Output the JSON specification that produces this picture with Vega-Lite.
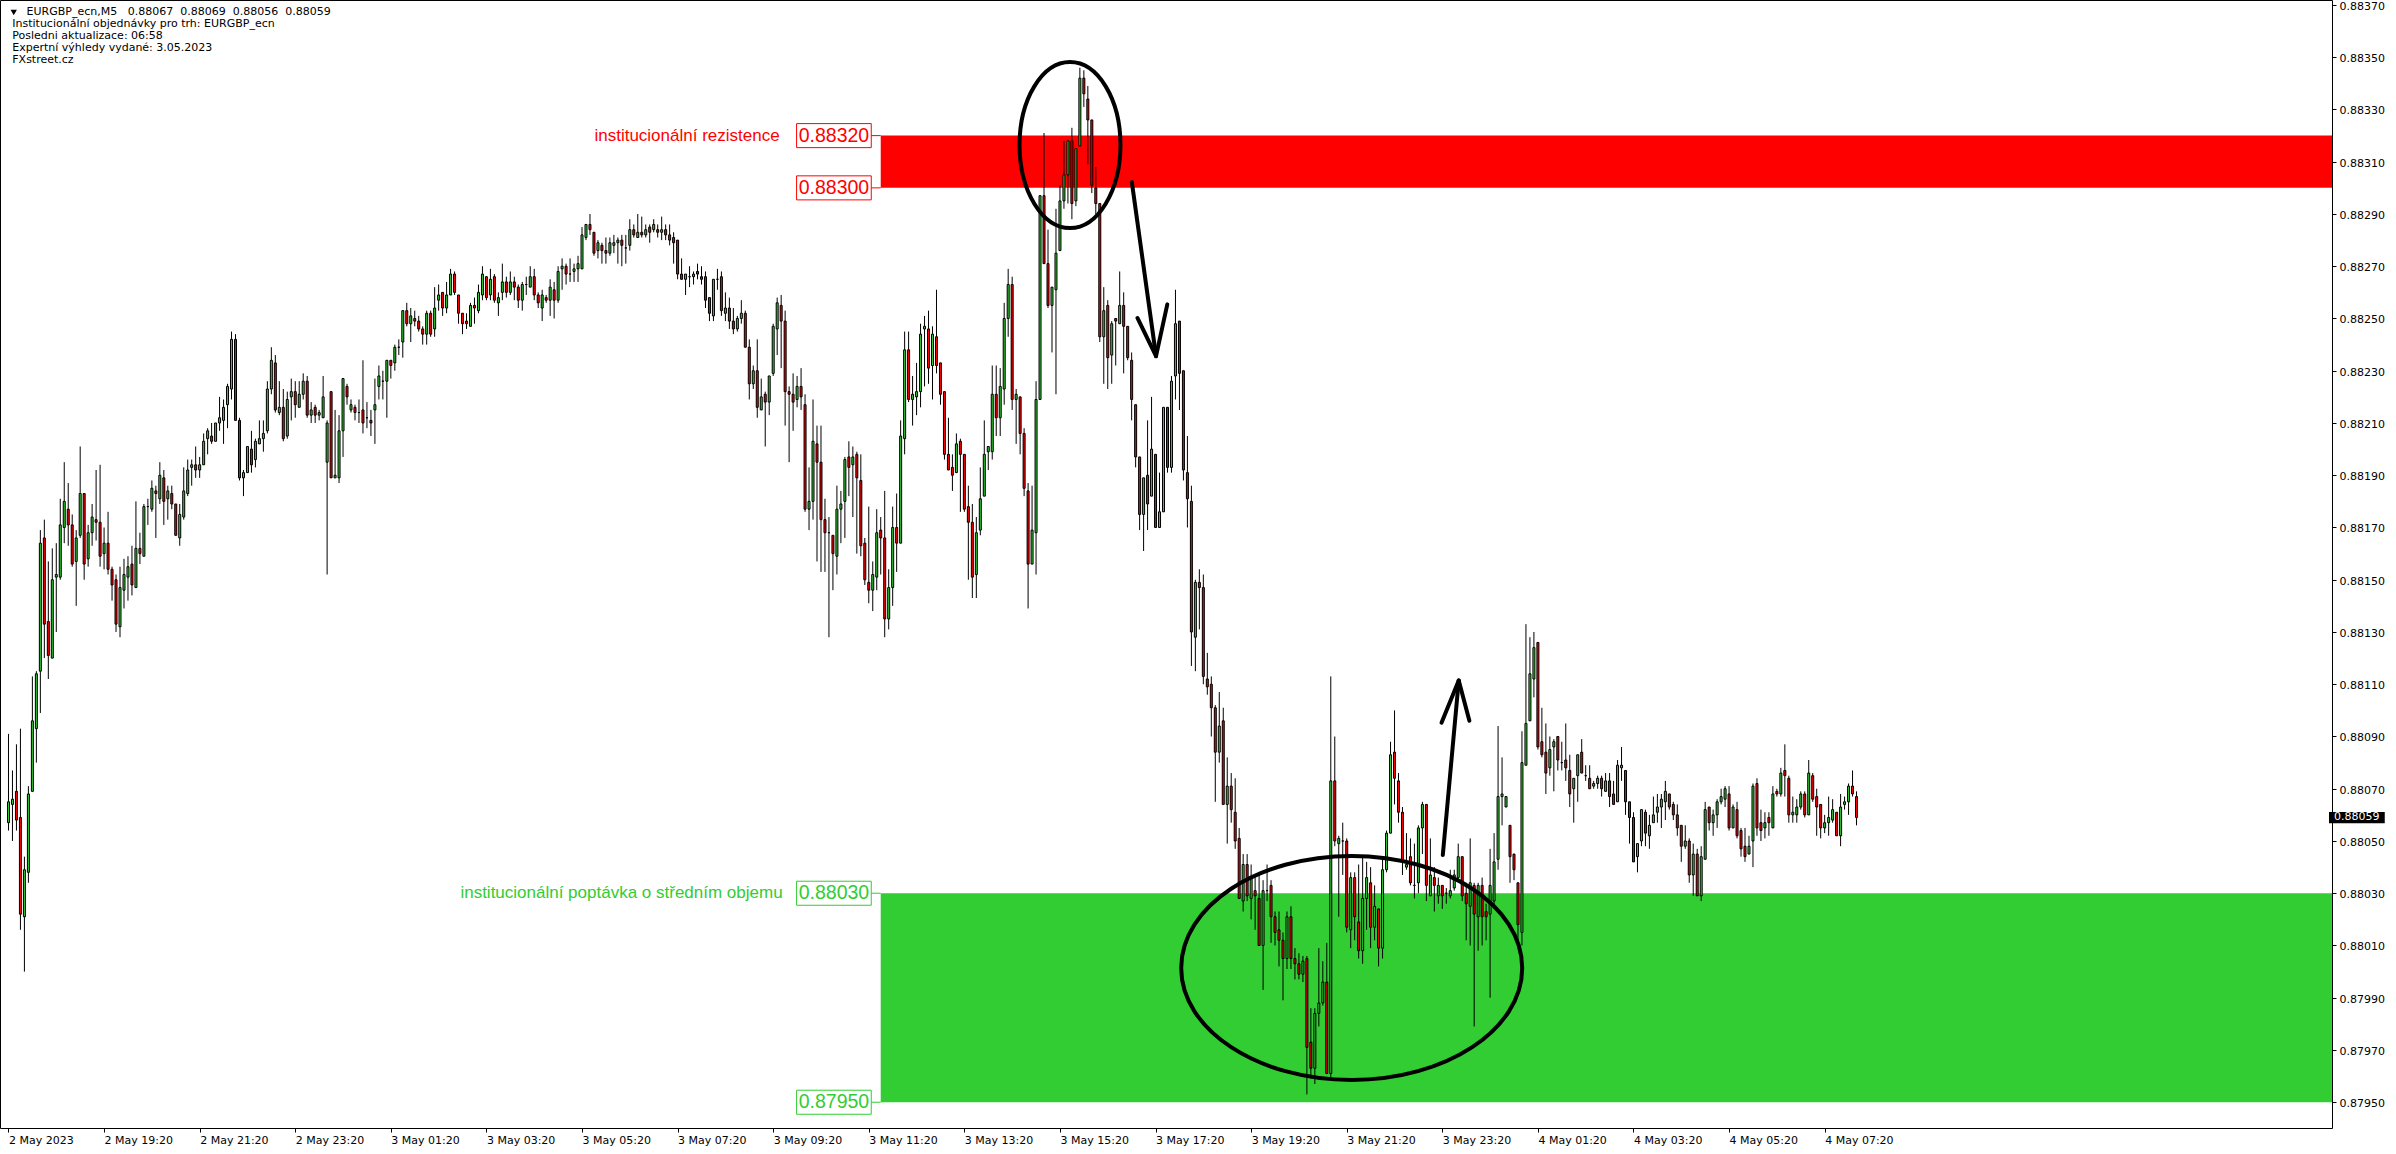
{
"$schema":"https://vega.github.io/schema/vega-lite/v6.json",
"width":2332,"height":1128,
"autosize":{"type":"none"},
"padding":{"left":0,"top":0,"right":64,"bottom":26},
"background":"white",
"config":{"view":{"stroke":"#000","strokeWidth":1},
"axis":{"labelFont":"DejaVu Sans","labelFontSize":11,"labelColor":"#000","tickColor":"#000","domain":false,"grid":false,"labelOverlap":false,"labelFlush":false,"labelBound":false}},
"datasets":{
"c":[
{"t":"2023-05-02T17:20","o":0.88057,"h":0.88091,"l":0.88054,"c":0.88065},
{"t":"2023-05-02T17:25","o":0.88064,"h":0.88077,"l":0.88050,"c":0.88066},
{"t":"2023-05-02T17:30","o":0.88069,"h":0.88087,"l":0.88054,"c":0.88058},
{"t":"2023-05-02T17:35","o":0.88059,"h":0.88093,"l":0.88016,"c":0.88022},
{"t":"2023-05-02T17:40","o":0.88021,"h":0.88044,"l":0.88000,"c":0.88039},
{"t":"2023-05-02T17:45","o":0.88038,"h":0.88071,"l":0.88034,"c":0.88068},
{"t":"2023-05-02T17:50","o":0.88069,"h":0.88113,"l":0.88069,"c":0.88096},
{"t":"2023-05-02T17:55","o":0.88093,"h":0.88115,"l":0.88080,"c":0.88114},
{"t":"2023-05-02T18:00","o":0.88115,"h":0.88169,"l":0.88099,"c":0.88164},
{"t":"2023-05-02T18:05","o":0.88166,"h":0.88173,"l":0.88120,"c":0.88133},
{"t":"2023-05-02T18:10","o":0.88134,"h":0.88157,"l":0.88112,"c":0.88121},
{"t":"2023-05-02T18:15","o":0.88120,"h":0.88162,"l":0.88120,"c":0.88150},
{"t":"2023-05-02T18:20","o":0.88151,"h":0.88164,"l":0.88130,"c":0.88152},
{"t":"2023-05-02T18:25","o":0.88151,"h":0.88181,"l":0.88150,"c":0.88171},
{"t":"2023-05-02T18:30","o":0.88170,"h":0.88195,"l":0.88164,"c":0.88180},
{"t":"2023-05-02T18:35","o":0.88177,"h":0.88187,"l":0.88163,"c":0.88171},
{"t":"2023-05-02T18:40","o":0.88171,"h":0.88175,"l":0.88155,"c":0.88156},
{"t":"2023-05-02T18:45","o":0.88157,"h":0.88169,"l":0.88140,"c":0.88166},
{"t":"2023-05-02T18:50","o":0.88167,"h":0.88201,"l":0.88166,"c":0.88183},
{"t":"2023-05-02T18:55","o":0.88183,"h":0.88183,"l":0.88150,"c":0.88156},
{"t":"2023-05-02T19:00","o":0.88158,"h":0.88171,"l":0.88155,"c":0.88168},
{"t":"2023-05-02T19:05","o":0.88168,"h":0.88179,"l":0.88163,"c":0.88174},
{"t":"2023-05-02T19:10","o":0.88173,"h":0.88192,"l":0.88165,"c":0.88172},
{"t":"2023-05-02T19:15","o":0.88172,"h":0.88194,"l":0.88155,"c":0.88159},
{"t":"2023-05-02T19:20","o":0.88160,"h":0.88170,"l":0.88154,"c":0.88164},
{"t":"2023-05-02T19:25","o":0.88164,"h":0.88176,"l":0.88152,"c":0.88154},
{"t":"2023-05-02T19:30","o":0.88154,"h":0.88155,"l":0.88142,"c":0.88148},
{"t":"2023-05-02T19:35","o":0.88150,"h":0.88152,"l":0.88130,"c":0.88133},
{"t":"2023-05-02T19:40","o":0.88132,"h":0.88155,"l":0.88128,"c":0.88147},
{"t":"2023-05-02T19:45","o":0.88146,"h":0.88158,"l":0.88139,"c":0.88152},
{"t":"2023-05-02T19:50","o":0.88151,"h":0.88159,"l":0.88142,"c":0.88155},
{"t":"2023-05-02T19:55","o":0.88156,"h":0.88163,"l":0.88144,"c":0.88148},
{"t":"2023-05-02T20:00","o":0.88147,"h":0.88180,"l":0.88147,"c":0.88162},
{"t":"2023-05-02T20:05","o":0.88162,"h":0.88168,"l":0.88156,"c":0.88160},
{"t":"2023-05-02T20:10","o":0.88159,"h":0.88179,"l":0.88159,"c":0.88178},
{"t":"2023-05-02T20:15","o":0.88178,"h":0.88181,"l":0.88171,"c":0.88178},
{"t":"2023-05-02T20:20","o":0.88177,"h":0.88188,"l":0.88176,"c":0.88185},
{"t":"2023-05-02T20:25","o":0.88184,"h":0.88186,"l":0.88166,"c":0.88183},
{"t":"2023-05-02T20:30","o":0.88181,"h":0.88195,"l":0.88179,"c":0.88190},
{"t":"2023-05-02T20:35","o":0.88189,"h":0.88192,"l":0.88171,"c":0.88180},
{"t":"2023-05-02T20:40","o":0.88181,"h":0.88186,"l":0.88173,"c":0.88184},
{"t":"2023-05-02T20:45","o":0.88183,"h":0.88186,"l":0.88177,"c":0.88179},
{"t":"2023-05-02T20:50","o":0.88179,"h":0.88179,"l":0.88167,"c":0.88167},
{"t":"2023-05-02T20:55","o":0.88166,"h":0.88179,"l":0.88163,"c":0.88175},
{"t":"2023-05-02T21:00","o":0.88174,"h":0.88193,"l":0.88173,"c":0.88184},
{"t":"2023-05-02T21:05","o":0.88183,"h":0.88196,"l":0.88182,"c":0.88192},
{"t":"2023-05-02T21:10","o":0.88193,"h":0.88196,"l":0.88186,"c":0.88194},
{"t":"2023-05-02T21:15","o":0.88194,"h":0.88201,"l":0.88189,"c":0.88192},
{"t":"2023-05-02T21:20","o":0.88192,"h":0.88197,"l":0.88189,"c":0.88194},
{"t":"2023-05-02T21:25","o":0.88194,"h":0.88206,"l":0.88194,"c":0.88203},
{"t":"2023-05-02T21:30","o":0.88204,"h":0.88208,"l":0.88198,"c":0.88207},
{"t":"2023-05-02T21:35","o":0.88205,"h":0.88210,"l":0.88202,"c":0.88203},
{"t":"2023-05-02T21:40","o":0.88203,"h":0.88210,"l":0.88203,"c":0.88210},
{"t":"2023-05-02T21:45","o":0.88210,"h":0.88220,"l":0.88207,"c":0.88212},
{"t":"2023-05-02T21:50","o":0.88211,"h":0.88219,"l":0.88202,"c":0.88216},
{"t":"2023-05-02T21:55","o":0.88217,"h":0.88225,"l":0.88208,"c":0.88224},
{"t":"2023-05-02T22:00","o":0.88223,"h":0.88245,"l":0.88219,"c":0.88242},
{"t":"2023-05-02T22:05","o":0.88242,"h":0.88244,"l":0.88211,"c":0.88211},
{"t":"2023-05-02T22:10","o":0.88211,"h":0.88212,"l":0.88188,"c":0.88189},
{"t":"2023-05-02T22:15","o":0.88189,"h":0.88192,"l":0.88182,"c":0.88191},
{"t":"2023-05-02T22:20","o":0.88191,"h":0.88201,"l":0.88191,"c":0.88201},
{"t":"2023-05-02T22:25","o":0.88200,"h":0.88207,"l":0.88191,"c":0.88194},
{"t":"2023-05-02T22:30","o":0.88196,"h":0.88204,"l":0.88193,"c":0.88203},
{"t":"2023-05-02T22:35","o":0.88202,"h":0.88211,"l":0.88202,"c":0.88204},
{"t":"2023-05-02T22:40","o":0.88204,"h":0.88211,"l":0.88199,"c":0.88206},
{"t":"2023-05-02T22:45","o":0.88207,"h":0.88226,"l":0.88206,"c":0.88223},
{"t":"2023-05-02T22:50","o":0.88223,"h":0.88239,"l":0.88221,"c":0.88234},
{"t":"2023-05-02T22:55","o":0.88233,"h":0.88236,"l":0.88214,"c":0.88215},
{"t":"2023-05-02T23:00","o":0.88214,"h":0.88226,"l":0.88213,"c":0.88216},
{"t":"2023-05-02T23:05","o":0.88216,"h":0.88223,"l":0.88203,"c":0.88204},
{"t":"2023-05-02T23:10","o":0.88205,"h":0.88222,"l":0.88204,"c":0.88219},
{"t":"2023-05-02T23:15","o":0.88220,"h":0.88227,"l":0.88211,"c":0.88222},
{"t":"2023-05-02T23:20","o":0.88222,"h":0.88226,"l":0.88212,"c":0.88217},
{"t":"2023-05-02T23:25","o":0.88216,"h":0.88226,"l":0.88216,"c":0.88221},
{"t":"2023-05-02T23:30","o":0.88221,"h":0.88229,"l":0.88219,"c":0.88226},
{"t":"2023-05-02T23:35","o":0.88226,"h":0.88228,"l":0.88212,"c":0.88213},
{"t":"2023-05-02T23:40","o":0.88213,"h":0.88218,"l":0.88210,"c":0.88215},
{"t":"2023-05-02T23:45","o":0.88216,"h":0.88217,"l":0.88210,"c":0.88213},
{"t":"2023-05-02T23:50","o":0.88213,"h":0.88215,"l":0.88211,"c":0.88214},
{"t":"2023-05-02T23:55","o":0.88212,"h":0.88228,"l":0.88212,"c":0.88220},
{"t":"2023-05-03T00:00","o":0.88195,"h":0.88211,"l":0.88152,"c":0.88210},
{"t":"2023-05-03T00:05","o":0.88222,"h":0.88222,"l":0.88189,"c":0.88189},
{"t":"2023-05-03T00:10","o":0.88189,"h":0.88215,"l":0.88189,"c":0.88190},
{"t":"2023-05-03T00:15","o":0.88189,"h":0.88213,"l":0.88187,"c":0.88207},
{"t":"2023-05-03T00:20","o":0.88207,"h":0.88227,"l":0.88197,"c":0.88227},
{"t":"2023-05-03T00:25","o":0.88224,"h":0.88225,"l":0.88217,"c":0.88220},
{"t":"2023-05-03T00:30","o":0.88215,"h":0.88219,"l":0.88214,"c":0.88217},
{"t":"2023-05-03T00:35","o":0.88216,"h":0.88217,"l":0.88211,"c":0.88214},
{"t":"2023-05-03T00:40","o":0.88214,"h":0.88219,"l":0.88210,"c":0.88214},
{"t":"2023-05-03T00:45","o":0.88215,"h":0.88234,"l":0.88206,"c":0.88210},
{"t":"2023-05-03T00:50","o":0.88212,"h":0.88218,"l":0.88208,"c":0.88212},
{"t":"2023-05-03T00:55","o":0.88211,"h":0.88215,"l":0.88205,"c":0.88210},
{"t":"2023-05-03T01:00","o":0.88215,"h":0.88227,"l":0.88202,"c":0.88217},
{"t":"2023-05-03T01:05","o":0.88224,"h":0.88232,"l":0.88219,"c":0.88228},
{"t":"2023-05-03T01:10","o":0.88226,"h":0.88230,"l":0.88219,"c":0.88226},
{"t":"2023-05-03T01:15","o":0.88226,"h":0.88234,"l":0.88212,"c":0.88234},
{"t":"2023-05-03T01:20","o":0.88234,"h":0.88234,"l":0.88227,"c":0.88232},
{"t":"2023-05-03T01:25","o":0.88233,"h":0.88240,"l":0.88230,"c":0.88239},
{"t":"2023-05-03T01:30","o":0.88239,"h":0.88242,"l":0.88236,"c":0.88239},
{"t":"2023-05-03T01:35","o":0.88241,"h":0.88253,"l":0.88235,"c":0.88253},
{"t":"2023-05-03T01:40","o":0.88253,"h":0.88256,"l":0.88247,"c":0.88248},
{"t":"2023-05-03T01:45","o":0.88248,"h":0.88254,"l":0.88241,"c":0.88251},
{"t":"2023-05-03T01:50","o":0.88250,"h":0.88253,"l":0.88247,"c":0.88249},
{"t":"2023-05-03T01:55","o":0.88249,"h":0.88251,"l":0.88245,"c":0.88246},
{"t":"2023-05-03T02:00","o":0.88246,"h":0.88247,"l":0.88240,"c":0.88244},
{"t":"2023-05-03T02:05","o":0.88244,"h":0.88253,"l":0.88240,"c":0.88252},
{"t":"2023-05-03T02:10","o":0.88252,"h":0.88253,"l":0.88243,"c":0.88244},
{"t":"2023-05-03T02:15","o":0.88246,"h":0.88262,"l":0.88243,"c":0.88254},
{"t":"2023-05-03T02:20","o":0.88257,"h":0.88263,"l":0.88253,"c":0.88259},
{"t":"2023-05-03T02:25","o":0.88260,"h":0.88260,"l":0.88251,"c":0.88254},
{"t":"2023-05-03T02:30","o":0.88254,"h":0.88264,"l":0.88252,"c":0.88259},
{"t":"2023-05-03T02:35","o":0.88259,"h":0.88269,"l":0.88259,"c":0.88267},
{"t":"2023-05-03T02:40","o":0.88267,"h":0.88268,"l":0.88259,"c":0.88260},
{"t":"2023-05-03T02:45","o":0.88259,"h":0.88259,"l":0.88248,"c":0.88252},
{"t":"2023-05-03T02:50","o":0.88252,"h":0.88252,"l":0.88244,"c":0.88248},
{"t":"2023-05-03T02:55","o":0.88249,"h":0.88252,"l":0.88246,"c":0.88248},
{"t":"2023-05-03T03:00","o":0.88247,"h":0.88256,"l":0.88247,"c":0.88255},
{"t":"2023-05-03T03:05","o":0.88255,"h":0.88258,"l":0.88248,"c":0.88254},
{"t":"2023-05-03T03:10","o":0.88253,"h":0.88263,"l":0.88252,"c":0.88260},
{"t":"2023-05-03T03:15","o":0.88259,"h":0.88270,"l":0.88257,"c":0.88267},
{"t":"2023-05-03T03:20","o":0.88266,"h":0.88266,"l":0.88257,"c":0.88258},
{"t":"2023-05-03T03:25","o":0.88259,"h":0.88269,"l":0.88257,"c":0.88265},
{"t":"2023-05-03T03:30","o":0.88266,"h":0.88267,"l":0.88256,"c":0.88257},
{"t":"2023-05-03T03:35","o":0.88256,"h":0.88260,"l":0.88251,"c":0.88258},
{"t":"2023-05-03T03:40","o":0.88260,"h":0.88271,"l":0.88257,"c":0.88264},
{"t":"2023-05-03T03:45","o":0.88264,"h":0.88266,"l":0.88258,"c":0.88260},
{"t":"2023-05-03T03:50","o":0.88260,"h":0.88268,"l":0.88259,"c":0.88264},
{"t":"2023-05-03T03:55","o":0.88264,"h":0.88266,"l":0.88257,"c":0.88262},
{"t":"2023-05-03T04:00","o":0.88262,"h":0.88263,"l":0.88254,"c":0.88257},
{"t":"2023-05-03T04:05","o":0.88257,"h":0.88264,"l":0.88253,"c":0.88263},
{"t":"2023-05-03T04:10","o":0.88263,"h":0.88266,"l":0.88259,"c":0.88263},
{"t":"2023-05-03T04:15","o":0.88262,"h":0.88270,"l":0.88262,"c":0.88266},
{"t":"2023-05-03T04:20","o":0.88266,"h":0.88269,"l":0.88257,"c":0.88259},
{"t":"2023-05-03T04:25","o":0.88259,"h":0.88260,"l":0.88254,"c":0.88256},
{"t":"2023-05-03T04:30","o":0.88254,"h":0.88261,"l":0.88249,"c":0.88259},
{"t":"2023-05-03T04:35","o":0.88258,"h":0.88259,"l":0.88256,"c":0.88257},
{"t":"2023-05-03T04:40","o":0.88257,"h":0.88265,"l":0.88251,"c":0.88262},
{"t":"2023-05-03T04:45","o":0.88261,"h":0.88264,"l":0.88250,"c":0.88257},
{"t":"2023-05-03T04:50","o":0.88257,"h":0.88270,"l":0.88256,"c":0.88268},
{"t":"2023-05-03T04:55","o":0.88269,"h":0.88273,"l":0.88261,"c":0.88270},
{"t":"2023-05-03T05:00","o":0.88270,"h":0.88271,"l":0.88263,"c":0.88267},
{"t":"2023-05-03T05:05","o":0.88267,"h":0.88273,"l":0.88264,"c":0.88267},
{"t":"2023-05-03T05:10","o":0.88268,"h":0.88271,"l":0.88264,"c":0.88269},
{"t":"2023-05-03T05:15","o":0.88269,"h":0.88274,"l":0.88264,"c":0.88271},
{"t":"2023-05-03T05:20","o":0.88269,"h":0.88285,"l":0.88269,"c":0.88282},
{"t":"2023-05-03T05:25","o":0.88281,"h":0.88286,"l":0.88280,"c":0.88286},
{"t":"2023-05-03T05:30","o":0.88286,"h":0.88290,"l":0.88282,"c":0.88284},
{"t":"2023-05-03T05:35","o":0.88283,"h":0.88283,"l":0.88274,"c":0.88275},
{"t":"2023-05-03T05:40","o":0.88276,"h":0.88280,"l":0.88273,"c":0.88279},
{"t":"2023-05-03T05:45","o":0.88278,"h":0.88279,"l":0.88271,"c":0.88276},
{"t":"2023-05-03T05:50","o":0.88276,"h":0.88281,"l":0.88271,"c":0.88275},
{"t":"2023-05-03T05:55","o":0.88275,"h":0.88281,"l":0.88274,"c":0.88279},
{"t":"2023-05-03T06:00","o":0.88278,"h":0.88282,"l":0.88275,"c":0.88279},
{"t":"2023-05-03T06:05","o":0.88279,"h":0.88281,"l":0.88271,"c":0.88280},
{"t":"2023-05-03T06:10","o":0.88280,"h":0.88282,"l":0.88270,"c":0.88278},
{"t":"2023-05-03T06:15","o":0.88277,"h":0.88282,"l":0.88271,"c":0.88277},
{"t":"2023-05-03T06:20","o":0.88278,"h":0.88288,"l":0.88276,"c":0.88284},
{"t":"2023-05-03T06:25","o":0.88284,"h":0.88286,"l":0.88281,"c":0.88282},
{"t":"2023-05-03T06:30","o":0.88281,"h":0.88290,"l":0.88281,"c":0.88283},
{"t":"2023-05-03T06:35","o":0.88283,"h":0.88289,"l":0.88281,"c":0.88282},
{"t":"2023-05-03T06:40","o":0.88282,"h":0.88286,"l":0.88281,"c":0.88284},
{"t":"2023-05-03T06:45","o":0.88285,"h":0.88286,"l":0.88279,"c":0.88283},
{"t":"2023-05-03T06:50","o":0.88284,"h":0.88288,"l":0.88283,"c":0.88286},
{"t":"2023-05-03T06:55","o":0.88284,"h":0.88286,"l":0.88281,"c":0.88283},
{"t":"2023-05-03T07:00","o":0.88283,"h":0.88289,"l":0.88280,"c":0.88284},
{"t":"2023-05-03T07:05","o":0.88284,"h":0.88286,"l":0.88280,"c":0.88282},
{"t":"2023-05-03T07:10","o":0.88282,"h":0.88286,"l":0.88278,"c":0.88280},
{"t":"2023-05-03T07:15","o":0.88281,"h":0.88283,"l":0.88271,"c":0.88279},
{"t":"2023-05-03T07:20","o":0.88280,"h":0.88280,"l":0.88265,"c":0.88267},
{"t":"2023-05-03T07:25","o":0.88267,"h":0.88273,"l":0.88265,"c":0.88265},
{"t":"2023-05-03T07:30","o":0.88265,"h":0.88267,"l":0.88259,"c":0.88267},
{"t":"2023-05-03T07:35","o":0.88266,"h":0.88270,"l":0.88262,"c":0.88266},
{"t":"2023-05-03T07:40","o":0.88266,"h":0.88268,"l":0.88263,"c":0.88267},
{"t":"2023-05-03T07:45","o":0.88268,"h":0.88271,"l":0.88265,"c":0.88267},
{"t":"2023-05-03T07:50","o":0.88266,"h":0.88270,"l":0.88263,"c":0.88265},
{"t":"2023-05-03T07:55","o":0.88266,"h":0.88268,"l":0.88254,"c":0.88257},
{"t":"2023-05-03T08:00","o":0.88258,"h":0.88258,"l":0.88249,"c":0.88252},
{"t":"2023-05-03T08:05","o":0.88251,"h":0.88265,"l":0.88249,"c":0.88265},
{"t":"2023-05-03T08:10","o":0.88265,"h":0.88269,"l":0.88261,"c":0.88265},
{"t":"2023-05-03T08:15","o":0.88266,"h":0.88268,"l":0.88251,"c":0.88253},
{"t":"2023-05-03T08:20","o":0.88252,"h":0.88260,"l":0.88249,"c":0.88254},
{"t":"2023-05-03T08:25","o":0.88254,"h":0.88258,"l":0.88246,"c":0.88249},
{"t":"2023-05-03T08:30","o":0.88249,"h":0.88254,"l":0.88244,"c":0.88246},
{"t":"2023-05-03T08:35","o":0.88246,"h":0.88251,"l":0.88245,"c":0.88250},
{"t":"2023-05-03T08:40","o":0.88250,"h":0.88257,"l":0.88248,"c":0.88252},
{"t":"2023-05-03T08:45","o":0.88252,"h":0.88253,"l":0.88239,"c":0.88239},
{"t":"2023-05-03T08:50","o":0.88239,"h":0.88242,"l":0.88219,"c":0.88225},
{"t":"2023-05-03T08:55","o":0.88225,"h":0.88232,"l":0.88223,"c":0.88230},
{"t":"2023-05-03T09:00","o":0.88230,"h":0.88242,"l":0.88212,"c":0.88216},
{"t":"2023-05-03T09:05","o":0.88215,"h":0.88227,"l":0.88215,"c":0.88220},
{"t":"2023-05-03T09:10","o":0.88221,"h":0.88222,"l":0.88201,"c":0.88218},
{"t":"2023-05-03T09:15","o":0.88218,"h":0.88228,"l":0.88213,"c":0.88228},
{"t":"2023-05-03T09:20","o":0.88229,"h":0.88248,"l":0.88228,"c":0.88247},
{"t":"2023-05-03T09:25","o":0.88246,"h":0.88258,"l":0.88236,"c":0.88256},
{"t":"2023-05-03T09:30","o":0.88255,"h":0.88259,"l":0.88231,"c":0.88249},
{"t":"2023-05-03T09:35","o":0.88249,"h":0.88253,"l":0.88209,"c":0.88222},
{"t":"2023-05-03T09:40","o":0.88222,"h":0.88224,"l":0.88195,"c":0.88221},
{"t":"2023-05-03T09:45","o":0.88221,"h":0.88229,"l":0.88207,"c":0.88218},
{"t":"2023-05-03T09:50","o":0.88219,"h":0.88228,"l":0.88216,"c":0.88224},
{"t":"2023-05-03T09:55","o":0.88224,"h":0.88231,"l":0.88215,"c":0.88220},
{"t":"2023-05-03T10:00","o":0.88217,"h":0.88221,"l":0.88176,"c":0.88177},
{"t":"2023-05-03T10:05","o":0.88177,"h":0.88193,"l":0.88169,"c":0.88180},
{"t":"2023-05-03T10:10","o":0.88180,"h":0.88219,"l":0.88173,"c":0.88203},
{"t":"2023-05-03T10:15","o":0.88202,"h":0.88209,"l":0.88157,"c":0.88195},
{"t":"2023-05-03T10:20","o":0.88195,"h":0.88209,"l":0.88153,"c":0.88173},
{"t":"2023-05-03T10:25","o":0.88173,"h":0.88181,"l":0.88153,"c":0.88168},
{"t":"2023-05-03T10:30","o":0.88168,"h":0.88174,"l":0.88128,"c":0.88168},
{"t":"2023-05-03T10:35","o":0.88167,"h":0.88167,"l":0.88146,"c":0.88160},
{"t":"2023-05-03T10:40","o":0.88159,"h":0.88186,"l":0.88152,"c":0.88177},
{"t":"2023-05-03T10:45","o":0.88177,"h":0.88184,"l":0.88164,"c":0.88179},
{"t":"2023-05-03T10:50","o":0.88180,"h":0.88197,"l":0.88166,"c":0.88196},
{"t":"2023-05-03T10:55","o":0.88197,"h":0.88203,"l":0.88182,"c":0.88193},
{"t":"2023-05-03T11:00","o":0.88194,"h":0.88201,"l":0.88174,"c":0.88197},
{"t":"2023-05-03T11:05","o":0.88198,"h":0.88199,"l":0.88160,"c":0.88189},
{"t":"2023-05-03T11:10","o":0.88188,"h":0.88198,"l":0.88159,"c":0.88163},
{"t":"2023-05-03T11:15","o":0.88164,"h":0.88166,"l":0.88148,"c":0.88150},
{"t":"2023-05-03T11:20","o":0.88149,"h":0.88178,"l":0.88141,"c":0.88146},
{"t":"2023-05-03T11:25","o":0.88146,"h":0.88157,"l":0.88138,"c":0.88152},
{"t":"2023-05-03T11:30","o":0.88151,"h":0.88177,"l":0.88146,"c":0.88168},
{"t":"2023-05-03T11:35","o":0.88169,"h":0.88174,"l":0.88152,"c":0.88166},
{"t":"2023-05-03T11:40","o":0.88166,"h":0.88184,"l":0.88128,"c":0.88135},
{"t":"2023-05-03T11:45","o":0.88135,"h":0.88154,"l":0.88131,"c":0.88147},
{"t":"2023-05-03T11:50","o":0.88147,"h":0.88178,"l":0.88140,"c":0.88170},
{"t":"2023-05-03T11:55","o":0.88170,"h":0.88183,"l":0.88153,"c":0.88164},
{"t":"2023-05-03T12:00","o":0.88164,"h":0.88211,"l":0.88164,"c":0.88205},
{"t":"2023-05-03T12:05","o":0.88204,"h":0.88245,"l":0.88198,"c":0.88238},
{"t":"2023-05-03T12:10","o":0.88238,"h":0.88245,"l":0.88218,"c":0.88219},
{"t":"2023-05-03T12:15","o":0.88219,"h":0.88228,"l":0.88209,"c":0.88221},
{"t":"2023-05-03T12:20","o":0.88220,"h":0.88233,"l":0.88213,"c":0.88222},
{"t":"2023-05-03T12:25","o":0.88222,"h":0.88248,"l":0.88216,"c":0.88244},
{"t":"2023-05-03T12:30","o":0.88246,"h":0.88251,"l":0.88224,"c":0.88247},
{"t":"2023-05-03T12:35","o":0.88246,"h":0.88253,"l":0.88225,"c":0.88231},
{"t":"2023-05-03T12:40","o":0.88232,"h":0.88247,"l":0.88219,"c":0.88244},
{"t":"2023-05-03T12:45","o":0.88243,"h":0.88261,"l":0.88229,"c":0.88232},
{"t":"2023-05-03T12:50","o":0.88233,"h":0.88233,"l":0.88217,"c":0.88221},
{"t":"2023-05-03T12:55","o":0.88222,"h":0.88222,"l":0.88196,"c":0.88198},
{"t":"2023-05-03T13:00","o":0.88198,"h":0.88212,"l":0.88192,"c":0.88192},
{"t":"2023-05-03T13:05","o":0.88193,"h":0.88198,"l":0.88184,"c":0.88190},
{"t":"2023-05-03T13:10","o":0.88191,"h":0.88206,"l":0.88191,"c":0.88202},
{"t":"2023-05-03T13:15","o":0.88203,"h":0.88204,"l":0.88176,"c":0.88198},
{"t":"2023-05-03T13:20","o":0.88198,"h":0.88198,"l":0.88176,"c":0.88177},
{"t":"2023-05-03T13:25","o":0.88178,"h":0.88186,"l":0.88150,"c":0.88172},
{"t":"2023-05-03T13:30","o":0.88172,"h":0.88179,"l":0.88143,"c":0.88151},
{"t":"2023-05-03T13:35","o":0.88152,"h":0.88174,"l":0.88143,"c":0.88168},
{"t":"2023-05-03T13:40","o":0.88169,"h":0.88193,"l":0.88167,"c":0.88181},
{"t":"2023-05-03T13:45","o":0.88182,"h":0.88211,"l":0.88182,"c":0.88198},
{"t":"2023-05-03T13:50","o":0.88199,"h":0.88201,"l":0.88192,"c":0.88201},
{"t":"2023-05-03T13:55","o":0.88199,"h":0.88232,"l":0.88196,"c":0.88221},
{"t":"2023-05-03T14:00","o":0.88221,"h":0.88232,"l":0.88205,"c":0.88212},
{"t":"2023-05-03T14:05","o":0.88212,"h":0.88231,"l":0.88205,"c":0.88224},
{"t":"2023-05-03T14:10","o":0.88223,"h":0.88256,"l":0.88217,"c":0.88250},
{"t":"2023-05-03T14:15","o":0.88250,"h":0.88269,"l":0.88243,"c":0.88263},
{"t":"2023-05-03T14:20","o":0.88263,"h":0.88266,"l":0.88215,"c":0.88219},
{"t":"2023-05-03T14:25","o":0.88219,"h":0.88223,"l":0.88202,"c":0.88221},
{"t":"2023-05-03T14:30","o":0.88220,"h":0.88220,"l":0.88198,"c":0.88206},
{"t":"2023-05-03T14:35","o":0.88206,"h":0.88208,"l":0.88182,"c":0.88185},
{"t":"2023-05-03T14:40","o":0.88184,"h":0.88187,"l":0.88139,"c":0.88156},
{"t":"2023-05-03T14:45","o":0.88156,"h":0.88186,"l":0.88156,"c":0.88169},
{"t":"2023-05-03T14:50","o":0.88168,"h":0.88226,"l":0.88152,"c":0.88219},
{"t":"2023-05-03T14:55","o":0.88219,"h":0.88297,"l":0.88219,"c":0.88297},
{"t":"2023-05-03T15:00","o":0.88297,"h":0.88321,"l":0.88271,"c":0.88271},
{"t":"2023-05-03T15:05","o":0.88271,"h":0.88284,"l":0.88254,"c":0.88255},
{"t":"2023-05-03T15:10","o":0.88255,"h":0.88262,"l":0.88237,"c":0.88262},
{"t":"2023-05-03T15:15","o":0.88261,"h":0.88292,"l":0.88221,"c":0.88275},
{"t":"2023-05-03T15:20","o":0.88276,"h":0.88301,"l":0.88276,"c":0.88295},
{"t":"2023-05-03T15:25","o":0.88295,"h":0.88318,"l":0.88292,"c":0.88305},
{"t":"2023-05-03T15:30","o":0.88305,"h":0.88318,"l":0.88294,"c":0.88318},
{"t":"2023-05-03T15:35","o":0.88318,"h":0.88323,"l":0.88288,"c":0.88294},
{"t":"2023-05-03T15:40","o":0.88295,"h":0.88315,"l":0.88293,"c":0.88315},
{"t":"2023-05-03T15:45","o":0.88316,"h":0.88346,"l":0.88316,"c":0.88342},
{"t":"2023-05-03T15:50","o":0.88342,"h":0.88345,"l":0.88331,"c":0.88336},
{"t":"2023-05-03T15:55","o":0.88334,"h":0.88339,"l":0.88309,"c":0.88326},
{"t":"2023-05-03T16:00","o":0.88326,"h":0.88326,"l":0.88298,"c":0.88301},
{"t":"2023-05-03T16:05","o":0.88300,"h":0.88308,"l":0.88290,"c":0.88294},
{"t":"2023-05-03T16:10","o":0.88294,"h":0.88294,"l":0.88241,"c":0.88243},
{"t":"2023-05-03T16:15","o":0.88243,"h":0.88262,"l":0.88225,"c":0.88253},
{"t":"2023-05-03T16:20","o":0.88255,"h":0.88257,"l":0.88223,"c":0.88235},
{"t":"2023-05-03T16:25","o":0.88236,"h":0.88249,"l":0.88225,"c":0.88248},
{"t":"2023-05-03T16:30","o":0.88250,"h":0.88250,"l":0.88232,"c":0.88249},
{"t":"2023-05-03T16:35","o":0.88248,"h":0.88268,"l":0.88248,"c":0.88255},
{"t":"2023-05-03T16:40","o":0.88255,"h":0.88260,"l":0.88229,"c":0.88247},
{"t":"2023-05-03T16:45","o":0.88247,"h":0.88247,"l":0.88234,"c":0.88235},
{"t":"2023-05-03T16:50","o":0.88234,"h":0.88237,"l":0.88211,"c":0.88219},
{"t":"2023-05-03T16:55","o":0.88217,"h":0.88217,"l":0.88193,"c":0.88197},
{"t":"2023-05-03T17:00","o":0.88197,"h":0.88197,"l":0.88169,"c":0.88175},
{"t":"2023-05-03T17:05","o":0.88175,"h":0.88189,"l":0.88161,"c":0.88189},
{"t":"2023-05-03T17:10","o":0.88190,"h":0.88211,"l":0.88169,"c":0.88179},
{"t":"2023-05-03T17:15","o":0.88182,"h":0.88220,"l":0.88182,"c":0.88200},
{"t":"2023-05-03T17:20","o":0.88198,"h":0.88198,"l":0.88170,"c":0.88170},
{"t":"2023-05-03T17:25","o":0.88170,"h":0.88191,"l":0.88170,"c":0.88176},
{"t":"2023-05-03T17:30","o":0.88176,"h":0.88216,"l":0.88176,"c":0.88216},
{"t":"2023-05-03T17:35","o":0.88216,"h":0.88216,"l":0.88191,"c":0.88193},
{"t":"2023-05-03T17:40","o":0.88193,"h":0.88228,"l":0.88191,"c":0.88226},
{"t":"2023-05-03T17:45","o":0.88228,"h":0.88261,"l":0.88219,"c":0.88248},
{"t":"2023-05-03T17:50","o":0.88249,"h":0.88249,"l":0.88215,"c":0.88229},
{"t":"2023-05-03T17:55","o":0.88230,"h":0.88230,"l":0.88188,"c":0.88192},
{"t":"2023-05-03T18:00","o":0.88191,"h":0.88205,"l":0.88170,"c":0.88181},
{"t":"2023-05-03T18:05","o":0.88180,"h":0.88186,"l":0.88117,"c":0.88130},
{"t":"2023-05-03T18:10","o":0.88128,"h":0.88150,"l":0.88115,"c":0.88149},
{"t":"2023-05-03T18:15","o":0.88149,"h":0.88154,"l":0.88131,"c":0.88147},
{"t":"2023-05-03T18:20","o":0.88147,"h":0.88152,"l":0.88110,"c":0.88113},
{"t":"2023-05-03T18:25","o":0.88112,"h":0.88122,"l":0.88106,"c":0.88109},
{"t":"2023-05-03T18:30","o":0.88110,"h":0.88113,"l":0.88090,"c":0.88101},
{"t":"2023-05-03T18:35","o":0.88101,"h":0.88102,"l":0.88065,"c":0.88084},
{"t":"2023-05-03T18:40","o":0.88084,"h":0.88107,"l":0.88080,"c":0.88094},
{"t":"2023-05-03T18:45","o":0.88096,"h":0.88101,"l":0.88064,"c":0.88064},
{"t":"2023-05-03T18:50","o":0.88064,"h":0.88082,"l":0.88049,"c":0.88071},
{"t":"2023-05-03T18:55","o":0.88071,"h":0.88076,"l":0.88057,"c":0.88062},
{"t":"2023-05-03T19:00","o":0.88061,"h":0.88074,"l":0.88047,"c":0.88050},
{"t":"2023-05-03T19:05","o":0.88051,"h":0.88055,"l":0.88028,"c":0.88028},
{"t":"2023-05-03T19:10","o":0.88027,"h":0.88045,"l":0.88023,"c":0.88041},
{"t":"2023-05-03T19:15","o":0.88041,"h":0.88045,"l":0.88027,"c":0.88029},
{"t":"2023-05-03T19:20","o":0.88028,"h":0.88041,"l":0.88020,"c":0.88036},
{"t":"2023-05-03T19:25","o":0.88031,"h":0.88037,"l":0.88016,"c":0.88029},
{"t":"2023-05-03T19:30","o":0.88028,"h":0.88037,"l":0.88010,"c":0.88010},
{"t":"2023-05-03T19:35","o":0.88010,"h":0.88035,"l":0.87993,"c":0.88031},
{"t":"2023-05-03T19:40","o":0.88031,"h":0.88041,"l":0.88027,"c":0.88031},
{"t":"2023-05-03T19:45","o":0.88033,"h":0.88035,"l":0.88011,"c":0.88021},
{"t":"2023-05-03T19:50","o":0.88021,"h":0.88023,"l":0.88010,"c":0.88015},
{"t":"2023-05-03T19:55","o":0.88016,"h":0.88023,"l":0.88002,"c":0.88012},
{"t":"2023-05-03T20:00","o":0.88012,"h":0.88015,"l":0.87989,"c":0.88005},
{"t":"2023-05-03T20:05","o":0.88005,"h":0.88023,"l":0.88001,"c":0.88021},
{"t":"2023-05-03T20:10","o":0.88021,"h":0.88025,"l":0.88001,"c":0.88005},
{"t":"2023-05-03T20:15","o":0.88005,"h":0.88009,"l":0.87997,"c":0.88003},
{"t":"2023-05-03T20:20","o":0.88003,"h":0.88007,"l":0.87997,"c":0.87999},
{"t":"2023-05-03T20:25","o":0.87999,"h":0.88006,"l":0.87996,"c":0.88004},
{"t":"2023-05-03T20:30","o":0.88005,"h":0.88006,"l":0.87953,"c":0.87971},
{"t":"2023-05-03T20:35","o":0.87973,"h":0.87986,"l":0.87959,"c":0.87963},
{"t":"2023-05-03T20:40","o":0.87963,"h":0.87986,"l":0.87957,"c":0.87984},
{"t":"2023-05-03T20:45","o":0.87984,"h":0.88009,"l":0.87979,"c":0.87988},
{"t":"2023-05-03T20:50","o":0.87988,"h":0.88004,"l":0.87987,"c":0.87996},
{"t":"2023-05-03T20:55","o":0.87996,"h":0.88011,"l":0.87961,"c":0.87961},
{"t":"2023-05-03T21:00","o":0.87961,"h":0.88113,"l":0.87959,"c":0.88073},
{"t":"2023-05-03T21:05","o":0.88073,"h":0.88090,"l":0.88048,"c":0.88050},
{"t":"2023-05-03T21:10","o":0.88049,"h":0.88052,"l":0.88021,"c":0.88051},
{"t":"2023-05-03T21:15","o":0.88050,"h":0.88057,"l":0.88037,"c":0.88050},
{"t":"2023-05-03T21:20","o":0.88050,"h":0.88051,"l":0.88015,"c":0.88017},
{"t":"2023-05-03T21:25","o":0.88016,"h":0.88038,"l":0.88009,"c":0.88036},
{"t":"2023-05-03T21:30","o":0.88036,"h":0.88038,"l":0.88012,"c":0.88021},
{"t":"2023-05-03T21:35","o":0.88019,"h":0.88041,"l":0.88005,"c":0.88008},
{"t":"2023-05-03T21:40","o":0.88008,"h":0.88044,"l":0.88003,"c":0.88028},
{"t":"2023-05-03T21:45","o":0.88028,"h":0.88042,"l":0.88016,"c":0.88036},
{"t":"2023-05-03T21:50","o":0.88034,"h":0.88040,"l":0.88009,"c":0.88017},
{"t":"2023-05-03T21:55","o":0.88017,"h":0.88033,"l":0.88012,"c":0.88025},
{"t":"2023-05-03T22:00","o":0.88024,"h":0.88024,"l":0.88002,"c":0.88009},
{"t":"2023-05-03T22:05","o":0.88009,"h":0.88044,"l":0.88005,"c":0.88039},
{"t":"2023-05-03T22:10","o":0.88039,"h":0.88054,"l":0.88038,"c":0.88053},
{"t":"2023-05-03T22:15","o":0.88053,"h":0.88088,"l":0.88053,"c":0.88083},
{"t":"2023-05-03T22:20","o":0.88084,"h":0.88100,"l":0.88064,"c":0.88074},
{"t":"2023-05-03T22:25","o":0.88073,"h":0.88076,"l":0.88057,"c":0.88061},
{"t":"2023-05-03T22:30","o":0.88061,"h":0.88063,"l":0.88037,"c":0.88042},
{"t":"2023-05-03T22:35","o":0.88040,"h":0.88053,"l":0.88039,"c":0.88041},
{"t":"2023-05-03T22:40","o":0.88044,"h":0.88051,"l":0.88033,"c":0.88034},
{"t":"2023-05-03T22:45","o":0.88033,"h":0.88049,"l":0.88028,"c":0.88033},
{"t":"2023-05-03T22:50","o":0.88034,"h":0.88056,"l":0.88030,"c":0.88055},
{"t":"2023-05-03T22:55","o":0.88055,"h":0.88065,"l":0.88045,"c":0.88064},
{"t":"2023-05-03T23:00","o":0.88064,"h":0.88064,"l":0.88027,"c":0.88033},
{"t":"2023-05-03T23:05","o":0.88029,"h":0.88051,"l":0.88029,"c":0.88037},
{"t":"2023-05-03T23:10","o":0.88036,"h":0.88040,"l":0.88023,"c":0.88033},
{"t":"2023-05-03T23:15","o":0.88029,"h":0.88036,"l":0.88026,"c":0.88033},
{"t":"2023-05-03T23:20","o":0.88033,"h":0.88033,"l":0.88024,"c":0.88029},
{"t":"2023-05-03T23:25","o":0.88030,"h":0.88032,"l":0.88026,"c":0.88030},
{"t":"2023-05-03T23:30","o":0.88029,"h":0.88039,"l":0.88028,"c":0.88031},
{"t":"2023-05-03T23:35","o":0.88032,"h":0.88039,"l":0.88031,"c":0.88037},
{"t":"2023-05-03T23:40","o":0.88036,"h":0.88049,"l":0.88035,"c":0.88044},
{"t":"2023-05-03T23:45","o":0.88044,"h":0.88044,"l":0.88027,"c":0.88029},
{"t":"2023-05-03T23:50","o":0.88030,"h":0.88034,"l":0.88012,"c":0.88026},
{"t":"2023-05-03T23:55","o":0.88025,"h":0.88051,"l":0.88010,"c":0.88034},
{"t":"2023-05-04T00:00","o":0.88033,"h":0.88034,"l":0.87979,"c":0.88022},
{"t":"2023-05-04T00:05","o":0.88021,"h":0.88034,"l":0.88008,"c":0.88033},
{"t":"2023-05-04T00:10","o":0.88033,"h":0.88036,"l":0.88010,"c":0.88021},
{"t":"2023-05-04T00:15","o":0.88023,"h":0.88026,"l":0.88012,"c":0.88021},
{"t":"2023-05-04T00:20","o":0.88022,"h":0.88047,"l":0.87990,"c":0.88033},
{"t":"2023-05-04T00:25","o":0.88027,"h":0.88053,"l":0.88024,"c":0.88042},
{"t":"2023-05-04T00:30","o":0.88043,"h":0.88094,"l":0.88039,"c":0.88067},
{"t":"2023-05-04T00:35","o":0.88067,"h":0.88082,"l":0.88056,"c":0.88068},
{"t":"2023-05-04T00:40","o":0.88063,"h":0.88067,"l":0.88063,"c":0.88067},
{"t":"2023-05-04T00:45","o":0.88056,"h":0.88056,"l":0.88034,"c":0.88044},
{"t":"2023-05-04T00:50","o":0.88045,"h":0.88045,"l":0.88035,"c":0.88039},
{"t":"2023-05-04T00:55","o":0.88034,"h":0.88034,"l":0.88012,"c":0.88018},
{"t":"2023-05-04T01:00","o":0.88015,"h":0.88092,"l":0.88010,"c":0.88080},
{"t":"2023-05-04T01:05","o":0.88079,"h":0.88133,"l":0.88079,"c":0.88095},
{"t":"2023-05-04T01:10","o":0.88096,"h":0.88128,"l":0.88096,"c":0.88114},
{"t":"2023-05-04T01:15","o":0.88112,"h":0.88130,"l":0.88105,"c":0.88124},
{"t":"2023-05-04T01:20","o":0.88126,"h":0.88126,"l":0.88085,"c":0.88086},
{"t":"2023-05-04T01:25","o":0.88088,"h":0.88101,"l":0.88082,"c":0.88083},
{"t":"2023-05-04T01:30","o":0.88084,"h":0.88095,"l":0.88068,"c":0.88076},
{"t":"2023-05-04T01:35","o":0.88078,"h":0.88090,"l":0.88075,"c":0.88085},
{"t":"2023-05-04T01:40","o":0.88086,"h":0.88089,"l":0.88069,"c":0.88088},
{"t":"2023-05-04T01:45","o":0.88090,"h":0.88090,"l":0.88077,"c":0.88081},
{"t":"2023-05-04T01:50","o":0.88080,"h":0.88088,"l":0.88077,"c":0.88080},
{"t":"2023-05-04T01:55","o":0.88081,"h":0.88095,"l":0.88073,"c":0.88078},
{"t":"2023-05-04T02:00","o":0.88077,"h":0.88083,"l":0.88063,"c":0.88068},
{"t":"2023-05-04T02:05","o":0.88070,"h":0.88074,"l":0.88057,"c":0.88074},
{"t":"2023-05-04T02:10","o":0.88075,"h":0.88083,"l":0.88065,"c":0.88083},
{"t":"2023-05-04T02:15","o":0.88084,"h":0.88089,"l":0.88076,"c":0.88076},
{"t":"2023-05-04T02:20","o":0.88075,"h":0.88079,"l":0.88073,"c":0.88075},
{"t":"2023-05-04T02:25","o":0.88074,"h":0.88079,"l":0.88070,"c":0.88070},
{"t":"2023-05-04T02:30","o":0.88071,"h":0.88073,"l":0.88070,"c":0.88072},
{"t":"2023-05-04T02:35","o":0.88072,"h":0.88075,"l":0.88070,"c":0.88074},
{"t":"2023-05-04T02:40","o":0.88074,"h":0.88075,"l":0.88067,"c":0.88070},
{"t":"2023-05-04T02:45","o":0.88069,"h":0.88076,"l":0.88069,"c":0.88073},
{"t":"2023-05-04T02:50","o":0.88073,"h":0.88076,"l":0.88063,"c":0.88067},
{"t":"2023-05-04T02:55","o":0.88068,"h":0.88073,"l":0.88064,"c":0.88064},
{"t":"2023-05-04T03:00","o":0.88065,"h":0.88081,"l":0.88065,"c":0.88079},
{"t":"2023-05-04T03:05","o":0.88078,"h":0.88086,"l":0.88073,"c":0.88079},
{"t":"2023-05-04T03:10","o":0.88077,"h":0.88077,"l":0.88060,"c":0.88065},
{"t":"2023-05-04T03:15","o":0.88065,"h":0.88065,"l":0.88049,"c":0.88059},
{"t":"2023-05-04T03:20","o":0.88059,"h":0.88061,"l":0.88042,"c":0.88042},
{"t":"2023-05-04T03:25","o":0.88044,"h":0.88049,"l":0.88038,"c":0.88049},
{"t":"2023-05-04T03:30","o":0.88050,"h":0.88062,"l":0.88048,"c":0.88062},
{"t":"2023-05-04T03:35","o":0.88061,"h":0.88062,"l":0.88048,"c":0.88053},
{"t":"2023-05-04T03:40","o":0.88052,"h":0.88060,"l":0.88047,"c":0.88056},
{"t":"2023-05-04T03:45","o":0.88057,"h":0.88067,"l":0.88057,"c":0.88060},
{"t":"2023-05-04T03:50","o":0.88061,"h":0.88068,"l":0.88057,"c":0.88063},
{"t":"2023-05-04T03:55","o":0.88063,"h":0.88068,"l":0.88055,"c":0.88066},
{"t":"2023-05-04T04:00","o":0.88065,"h":0.88073,"l":0.88058,"c":0.88069},
{"t":"2023-05-04T04:05","o":0.88068,"h":0.88068,"l":0.88062,"c":0.88063},
{"t":"2023-05-04T04:10","o":0.88064,"h":0.88065,"l":0.88058,"c":0.88060},
{"t":"2023-05-04T04:15","o":0.88060,"h":0.88064,"l":0.88052,"c":0.88055},
{"t":"2023-05-04T04:20","o":0.88056,"h":0.88056,"l":0.88042,"c":0.88048},
{"t":"2023-05-04T04:25","o":0.88048,"h":0.88056,"l":0.88047,"c":0.88050},
{"t":"2023-05-04T04:30","o":0.88050,"h":0.88051,"l":0.88034,"c":0.88037},
{"t":"2023-05-04T04:35","o":0.88037,"h":0.88049,"l":0.88029,"c":0.88045},
{"t":"2023-05-04T04:40","o":0.88045,"h":0.88047,"l":0.88029,"c":0.88029},
{"t":"2023-05-04T04:45","o":0.88029,"h":0.88048,"l":0.88027,"c":0.88044},
{"t":"2023-05-04T04:50","o":0.88043,"h":0.88065,"l":0.88043,"c":0.88062},
{"t":"2023-05-04T04:55","o":0.88063,"h":0.88063,"l":0.88054,"c":0.88057},
{"t":"2023-05-04T05:00","o":0.88057,"h":0.88062,"l":0.88052,"c":0.88060},
{"t":"2023-05-04T05:05","o":0.88060,"h":0.88066,"l":0.88055,"c":0.88065},
{"t":"2023-05-04T05:10","o":0.88065,"h":0.88070,"l":0.88064,"c":0.88067},
{"t":"2023-05-04T05:15","o":0.88066,"h":0.88071,"l":0.88063,"c":0.88070},
{"t":"2023-05-04T05:20","o":0.88068,"h":0.88071,"l":0.88054,"c":0.88055},
{"t":"2023-05-04T05:25","o":0.88055,"h":0.88064,"l":0.88055,"c":0.88063},
{"t":"2023-05-04T05:30","o":0.88062,"h":0.88065,"l":0.88051,"c":0.88052},
{"t":"2023-05-04T05:35","o":0.88054,"h":0.88055,"l":0.88044,"c":0.88047},
{"t":"2023-05-04T05:40","o":0.88048,"h":0.88055,"l":0.88042,"c":0.88044},
{"t":"2023-05-04T05:45","o":0.88045,"h":0.88052,"l":0.88045,"c":0.88048},
{"t":"2023-05-04T05:50","o":0.88050,"h":0.88072,"l":0.88040,"c":0.88071},
{"t":"2023-05-04T05:55","o":0.88072,"h":0.88074,"l":0.88052,"c":0.88055},
{"t":"2023-05-04T06:00","o":0.88057,"h":0.88062,"l":0.88050,"c":0.88054},
{"t":"2023-05-04T06:05","o":0.88055,"h":0.88061,"l":0.88051,"c":0.88057},
{"t":"2023-05-04T06:10","o":0.88059,"h":0.88061,"l":0.88052,"c":0.88057},
{"t":"2023-05-04T06:15","o":0.88055,"h":0.88071,"l":0.88055,"c":0.88068},
{"t":"2023-05-04T06:20","o":0.88069,"h":0.88070,"l":0.88067,"c":0.88068},
{"t":"2023-05-04T06:25","o":0.88068,"h":0.88078,"l":0.88067,"c":0.88076},
{"t":"2023-05-04T06:30","o":0.88077,"h":0.88087,"l":0.88067,"c":0.88075},
{"t":"2023-05-04T06:35","o":0.88074,"h":0.88075,"l":0.88057,"c":0.88060},
{"t":"2023-05-04T06:40","o":0.88060,"h":0.88067,"l":0.88057,"c":0.88061},
{"t":"2023-05-04T06:45","o":0.88060,"h":0.88066,"l":0.88057,"c":0.88063},
{"t":"2023-05-04T06:50","o":0.88063,"h":0.88069,"l":0.88062,"c":0.88068},
{"t":"2023-05-04T06:55","o":0.88068,"h":0.88069,"l":0.88059,"c":0.88060},
{"t":"2023-05-04T07:00","o":0.88060,"h":0.88081,"l":0.88060,"c":0.88076},
{"t":"2023-05-04T07:05","o":0.88075,"h":0.88076,"l":0.88065,"c":0.88066},
{"t":"2023-05-04T07:10","o":0.88067,"h":0.88070,"l":0.88052,"c":0.88063},
{"t":"2023-05-04T07:15","o":0.88064,"h":0.88064,"l":0.88051,"c":0.88055},
{"t":"2023-05-04T07:20","o":0.88055,"h":0.88060,"l":0.88053,"c":0.88057},
{"t":"2023-05-04T07:25","o":0.88057,"h":0.88067,"l":0.88052,"c":0.88059},
{"t":"2023-05-04T07:30","o":0.88058,"h":0.88066,"l":0.88057,"c":0.88062},
{"t":"2023-05-04T07:35","o":0.88061,"h":0.88061,"l":0.88052,"c":0.88052},
{"t":"2023-05-04T07:40","o":0.88052,"h":0.88068,"l":0.88048,"c":0.88063},
{"t":"2023-05-04T07:45","o":0.88064,"h":0.88067,"l":0.88062,"c":0.88065},
{"t":"2023-05-04T07:50","o":0.88065,"h":0.88072,"l":0.88060,"c":0.88071},
{"t":"2023-05-04T07:55","o":0.88071,"h":0.88077,"l":0.88067,"c":0.88068},
{"t":"2023-05-04T08:00","o":0.88067,"h":0.88069,"l":0.88056,"c":0.88059}
],
"zones":[
{"name":"rezistence","t1":"2023-05-03T11:35","t2":"2023-05-04T18:30","top":0.8832,"bot":0.883},
{"name":"poptavka","t1":"2023-05-03T11:35","t2":"2023-05-04T18:30","top":0.8803,"bot":0.8795}
],
"desc":[
{"name":"rezistence","txt":"institucionální rezistence","t":"2023-05-03T09:28:07","p":0.8832},
{"name":"poptavka","txt":"institucionální poptávka o středním objemu","t":"2023-05-03T09:31:52","p":0.8803}
],
"boxes":[
{"name":"rezistence","label":"0.88320","t1":"2023-05-03T09:49:22","t2":"2023-05-03T11:23:07","tc":"2023-05-03T10:36:15","tz":"2023-05-03T11:35","p":0.8832,"top":0.883246,"bot":0.883154},
{"name":"rezistence","label":"0.88300","t1":"2023-05-03T09:49:22","t2":"2023-05-03T11:23:07","tc":"2023-05-03T10:36:15","tz":"2023-05-03T11:35","p":0.883,"top":0.883046,"bot":0.882954},
{"name":"poptavka","label":"0.88030","t1":"2023-05-03T09:49:22","t2":"2023-05-03T11:23:07","tc":"2023-05-03T10:36:15","tz":"2023-05-03T11:35","p":0.8803,"top":0.880346,"bot":0.880254},
{"name":"poptavka","label":"0.87950","t1":"2023-05-03T09:49:22","t2":"2023-05-03T11:23:07","tc":"2023-05-03T10:36:15","tz":"2023-05-03T11:35","p":0.8795,"top":0.879546,"bot":0.879454}
],
"arrows":[
{"t1":"2023-05-03T16:50:15","p1":0.883022,"t2":"2023-05-03T17:20:37","p2":0.882356},
{"t1":"2023-05-03T16:57:15","p1":0.882502,"t2":"2023-05-03T17:20:37","p2":0.882356},
{"t1":"2023-05-03T17:34:45","p1":0.882554,"t2":"2023-05-03T17:20:37","p2":0.882356},
{"t1":"2023-05-03T23:20:37","p1":0.880446,"t2":"2023-05-03T23:40:37","p2":0.881114},
{"t1":"2023-05-03T23:19:00","p1":0.880953,"t2":"2023-05-03T23:40:37","p2":0.881114},
{"t1":"2023-05-03T23:54:00","p1":0.880960,"t2":"2023-05-03T23:40:37","p2":0.881114}
],
"header":[
{"line":"EURGBP_ecn,M5\u00a0\u00a0 0.88067\u00a0 0.88069\u00a0 0.88056\u00a0 0.88059","t":"2023-05-02T17:42:45","p":0.8836713},
{"line":"Institucionální objednávky pro trh: EURGBP_ecn","t":"2023-05-02T17:24:45","p":0.8836254},
{"line":"Posledni aktualizace: 06:58","t":"2023-05-02T17:24:45","p":0.8835794},
{"line":"Expertní výhledy vydané: 3.05.2023","t":"2023-05-02T17:24:45","p":0.8835335},
{"line":"FXstreet.cz","t":"2023-05-02T17:24:45","p":0.8834876}
],
"tri":[{"t":"2023-05-02T17:26:37","p":0.8836713}],
"last":[{"label":"0.88059","t1":"2023-05-04T17:53:07","t2":"2023-05-04T19:03:07","tc":"2023-05-04T17:59:22","p":0.88059,"top":0.880611,"bot":0.880568}],
"e1":[{"t":"2023-05-03T15:32:37","p":0.883164}],
"e2":[{"t":"2023-05-03T21:26:15","p":0.880014}]
},
"layer":[
{"data":{"name":"zones"},"mark":{"type":"rect","clip":true},
"encoding":{
"x":{"field":"t1","type":"temporal","scale":{"domain":[{"year":2023,"month":5,"date":2,"hours":17,"minutes":15,"seconds":37,"milliseconds":500},{"year":2023,"month":5,"date":4,"hours":17,"minutes":50,"seconds":37,"milliseconds":500}]},
"axis":{"title":null,"orient":"bottom","values":[
{"year":2023,"month":5,"date":2,"hours":17,"minutes":20},{"year":2023,"month":5,"date":2,"hours":19,"minutes":20},{"year":2023,"month":5,"date":2,"hours":21,"minutes":20},{"year":2023,"month":5,"date":2,"hours":23,"minutes":20},
{"year":2023,"month":5,"date":3,"hours":1,"minutes":20},{"year":2023,"month":5,"date":3,"hours":3,"minutes":20},{"year":2023,"month":5,"date":3,"hours":5,"minutes":20},{"year":2023,"month":5,"date":3,"hours":7,"minutes":20},{"year":2023,"month":5,"date":3,"hours":9,"minutes":20},{"year":2023,"month":5,"date":3,"hours":11,"minutes":20},{"year":2023,"month":5,"date":3,"hours":13,"minutes":20},{"year":2023,"month":5,"date":3,"hours":15,"minutes":20},{"year":2023,"month":5,"date":3,"hours":17,"minutes":20},{"year":2023,"month":5,"date":3,"hours":19,"minutes":20},{"year":2023,"month":5,"date":3,"hours":21,"minutes":20},{"year":2023,"month":5,"date":3,"hours":23,"minutes":20},
{"year":2023,"month":5,"date":4,"hours":1,"minutes":20},{"year":2023,"month":5,"date":4,"hours":3,"minutes":20},{"year":2023,"month":5,"date":4,"hours":5,"minutes":20},{"year":2023,"month":5,"date":4,"hours":7,"minutes":20}],
"labelExpr":"(timeFormat(datum.value,'%d %H:%M')=='02 17:20') ? '2 May 2023' : timeFormat(datum.value,'%-d %b %H:%M')",
"labelAlign":"left","labelBaseline":"top","labelPadding":2,"tickSize":4}},
"x2":{"field":"t2"},
"y":{"field":"top","type":"quantitative","scale":{"domain":[0.8794014,0.8837191],"zero":false,"nice":false},
"axis":{"title":null,"orient":"right","values":[0.8795,0.8797,0.8799,0.8801,0.8803,0.8805,0.8807,0.8809,0.8811,0.8813,0.8815,0.8817,0.8819,0.8821,0.8823,0.8825,0.8827,0.8829,0.8831,0.8833,0.8835,0.8837],"format":".5f","labelAlign":"left","labelBaseline":"middle","labelPadding":3,"labelOffset":1.5,"tickSize":4}},
"y2":{"field":"bot"},
"color":{"field":"name","type":"nominal","scale":{"domain":["rezistence","poptavka"],"range":["#FF0000","#32CD32"]},"legend":null}}},
{"data":{"name":"c"},"mark":{"type":"rule","color":"#000","strokeWidth":1},
"encoding":{"x":{"field":"t","type":"temporal","axis":{"title":null}},"y":{"field":"l","type":"quantitative","axis":{"title":null}},"y2":{"field":"h"}}},
{"data":{"name":"c"},"mark":{"type":"bar","size":2,"stroke":"#000","strokeWidth":1},
"encoding":{"x":{"field":"t","type":"temporal","axis":{"title":null}},"y":{"field":"o","type":"quantitative","axis":{"title":null}},"y2":{"field":"c"},
"fill":{"condition":{"test":"datum.c > datum.o","value":"#32CD32"},"value":"#FF0000"}}},
{"data":{"name":"e1"},"mark":{"type":"point","shape":"M0,-1C0.336,-1,0.608,-0.552,0.608,0C0.608,0.552,0.336,1,0,1C-0.336,1,-0.608,0.552,-0.608,0C-0.608,-0.552,-0.336,-1,0,-1Z","size":27556,"filled":false,"stroke":"#000","strokeWidth":4,"opacity":1},
"encoding":{"x":{"field":"t","type":"temporal","axis":{"title":null}},"y":{"field":"p","type":"quantitative","axis":{"title":null}}}},
{"data":{"name":"e2"},"mark":{"type":"point","shape":"M-1,0C-1,-0.363,-0.552,-0.657,0,-0.657C0.552,-0.657,1,-0.363,1,0C1,0.363,0.552,0.657,0,0.657C-0.552,0.657,-1,0.363,-1,0Z","size":116281,"filled":false,"stroke":"#000","strokeWidth":4,"opacity":1},
"encoding":{"x":{"field":"t","type":"temporal","axis":{"title":null}},"y":{"field":"p","type":"quantitative","axis":{"title":null}}}},
{"data":{"name":"arrows"},"mark":{"type":"rule","color":"#000","strokeWidth":4,"strokeCap":"round"},
"encoding":{"x":{"field":"t1","type":"temporal","axis":{"title":null}},"y":{"field":"p1","type":"quantitative","axis":{"title":null}},"x2":{"field":"t2"},"y2":{"field":"p2"}}},
{"data":{"name":"desc"},"mark":{"type":"text","align":"right","baseline":"middle","font":"Liberation Sans","fontSize":17},
"encoding":{"x":{"field":"t","type":"temporal","axis":{"title":null}},"y":{"field":"p","type":"quantitative","axis":{"title":null}},"text":{"field":"txt"},
"color":{"field":"name","type":"nominal","legend":null}}},
{"data":{"name":"boxes"},"mark":{"type":"rect","fill":"white","strokeWidth":1},
"encoding":{"x":{"field":"t1","type":"temporal","axis":{"title":null}},"x2":{"field":"t2"},"y":{"field":"top","type":"quantitative","axis":{"title":null}},"y2":{"field":"bot"},
"stroke":{"field":"name","type":"nominal","scale":{"domain":["rezistence","poptavka"],"range":["#FF0000","#32CD32"]},"legend":null}}},
{"data":{"name":"boxes"},"mark":{"type":"rule","strokeWidth":1},
"encoding":{"x":{"field":"t2","type":"temporal","axis":{"title":null}},"x2":{"field":"tz"},"y":{"field":"p","type":"quantitative","axis":{"title":null}},
"color":{"field":"name","type":"nominal","legend":null}}},
{"data":{"name":"boxes"},"mark":{"type":"text","align":"center","baseline":"middle","font":"Liberation Sans","fontSize":19.5},
"encoding":{"x":{"field":"tc","type":"temporal","axis":{"title":null}},"y":{"field":"p","type":"quantitative","axis":{"title":null}},"text":{"field":"label"},
"color":{"field":"name","type":"nominal","legend":null}}},
{"data":{"name":"header"},"mark":{"type":"text","align":"left","baseline":"middle","font":"DejaVu Sans","fontSize":11,"color":"#000"},
"encoding":{"x":{"field":"t","type":"temporal","axis":{"title":null}},"y":{"field":"p","type":"quantitative","axis":{"title":null}},"text":{"field":"line"}}},
{"data":{"name":"tri"},"mark":{"type":"point","shape":"triangle-down","size":40,"filled":true,"color":"#000","opacity":1},
"encoding":{"x":{"field":"t","type":"temporal","axis":{"title":null}},"y":{"field":"p","type":"quantitative","axis":{"title":null}}}},
{"data":{"name":"last"},"mark":{"type":"rect","color":"#000"},
"encoding":{"x":{"field":"t1","type":"temporal","axis":{"title":null}},"x2":{"field":"t2"},"y":{"field":"top","type":"quantitative","axis":{"title":null}},"y2":{"field":"bot"}}},
{"data":{"name":"last"},"mark":{"type":"text","align":"left","baseline":"middle","font":"DejaVu Sans","fontSize":11,"color":"#FFF"},
"encoding":{"x":{"field":"tc","type":"temporal","axis":{"title":null}},"y":{"field":"p","type":"quantitative","axis":{"title":null}},"text":{"field":"label"}}}
]
}
